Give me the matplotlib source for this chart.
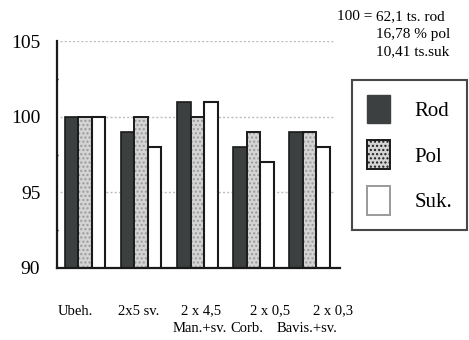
import matplotlib
matplotlib.use("Agg")
import matplotlib.pyplot as plt
import numpy as np
from matplotlib.patches import Patch

categories = ["Ubeh.", "2x5 sv.", "2 x 4,5", "2 x 0,5", "2 x 0,3"]
subtitles = ["", "", "Man.+sv.", "Corb.", "Bavis.+sv."]
series_names = ["Rod", "Pol", "Suk."]
rod = [100, 99, 101, 98, 99]
pol = [100, 100, 100, 99, 99]
suk = [100, 98, 101, 97, 98]
y_ticks = [90, 95, 100, 105]
note_lines = ["62,1 ts. rod", "16,78 % pol", "10,41 ts.suk"]
note_prefix = "100 ="

SERIF = ["Liberation Serif", "DejaVu Serif"]
plt.rcParams["font.family"] = SERIF
plt.rcParams["hatch.linewidth"] = 1.0

fig = plt.figure(figsize=(4.69, 3.40), dpi=100)
fig.patch.set_facecolor("white")
ax = fig.add_axes([57 / 469, 1 - 268 / 340, 283 / 469, 227 / 340])

x = np.arange(len(categories))
w = 0.24
dark = "#3d4040"

# gridlines behind bars
for yv in [95, 100, 105]:
    ax.axhline(yv, xmin=0.01, xmax=0.98, color="#bdbdbd", lw=1.0,
               ls=(0, (1.5, 1.5)), zorder=0)

ax.bar(x - w, rod, width=w, color=dark, edgecolor="#1a1a1a",
       linewidth=1.2, zorder=2)
# stippled fill for Pol, then an outline on top
ax.bar(x, pol, width=w, color="#d4d4d4", edgecolor="#9a9a9a", hatch="....",
       linewidth=0, zorder=2)
ax.bar(x, pol, width=w, fill=False, edgecolor="#1a1a1a", linewidth=1.4,
       zorder=3)
ax.bar(x + w, suk, width=w, color="white", edgecolor="#1a1a1a",
       linewidth=1.5, zorder=2)

ax.set_xlim(-0.5, 4.54)
ax.set_ylim(90, 105)
ax.set_yticks(y_ticks)
ax.set_yticklabels([str(v) for v in y_ticks], fontsize=14)
ax.set_yticks(np.arange(90, 105.1, 2.5), minor=True)
ax.tick_params(axis="y", which="major", length=0, pad=12)
ax.tick_params(axis="y", which="minor", length=2, direction="inout",
               width=1.0)
ax.set_xticks([])
for s in ["top", "right"]:
    ax.spines[s].set_visible(False)
for s in ["left", "bottom"]:
    ax.spines[s].set_linewidth(1.6)
    ax.spines[s].set_color("#1a1a1a")

# category labels under the axis
first_off = [-0.18, -0.05, 0.07, 0.29, 0.41]
second_off = [0, 0, 0.04, -0.11, -0.05]
trans = ax.get_xaxis_transform()
for i, (c, sub) in enumerate(zip(categories, subtitles)):
    ax.text(x[i] + first_off[i], -0.19, c, transform=trans, ha="center",
            va="center", fontsize=10.5)
    if sub:
        ax.text(x[i] + second_off[i], -0.265, sub, transform=trans,
                ha="center", va="center", fontsize=10.5)

# reference values note
fig.text(372 / 469, 1 - 17 / 340, note_prefix, ha="right", va="center",
         fontsize=11)
for j, line in enumerate(note_lines):
    fig.text(376 / 469, 1 - (17 + 17.5 * j) / 340, line, ha="left",
             va="center", fontsize=11)

handles = [
    Patch(facecolor=dark, edgecolor=dark, linewidth=1.0),
    Patch(facecolor="#d4d4d4", edgecolor="#1a1a1a", hatch="....",
          linewidth=1.4),
    Patch(facecolor="white", edgecolor="#9a9a9a", linewidth=1.4),
]
leg = fig.legend(handles, series_names, loc="upper right",
                 bbox_to_anchor=(467 / 469, 1 - 80 / 340),
                 bbox_transform=fig.transFigure, fontsize=15,
                 handlelength=1.1, handleheight=1.75, labelspacing=0.82,
                 handletextpad=1.2, borderpad=0.7, borderaxespad=0,
                 fancybox=False, frameon=True)
leg.get_frame().set_edgecolor("#1a1a1a")
leg.get_frame().set_linewidth(1.5)

fig.savefig("out.png", dpi=100, facecolor="white")
